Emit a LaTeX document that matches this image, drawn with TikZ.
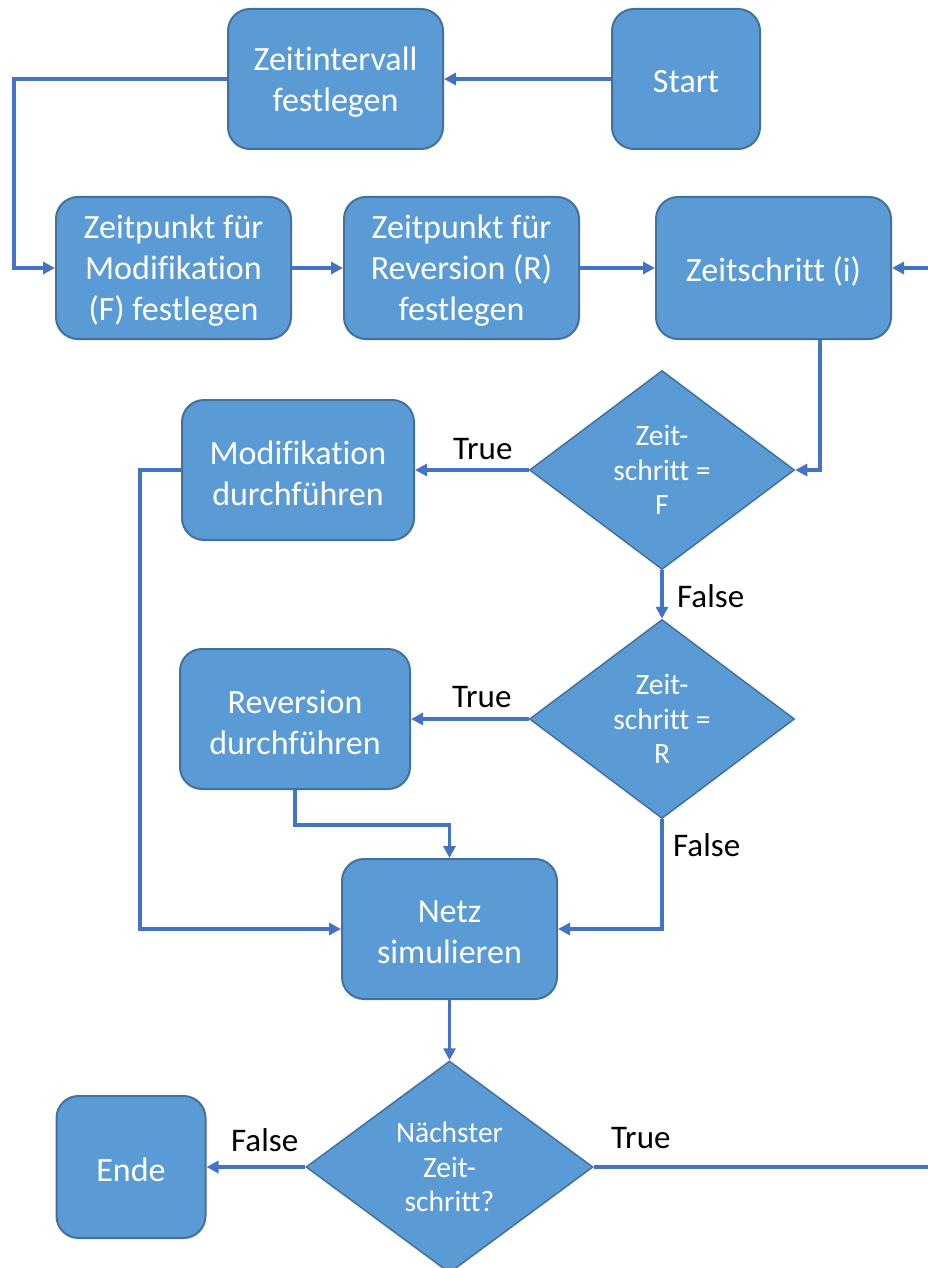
\documentclass[tikz,border=0pt]{standalone}
\usepackage{fontspec}
\setmainfont[Ligatures={NoCommon}]{Carlito}
\usetikzlibrary{arrows.meta,shapes.geometric}
\definecolor{boxfill}{HTML}{5B9BD5}
\definecolor{boxline}{HTML}{41719C}
\definecolor{conncol}{HTML}{4472C4}
\begin{document}
\begin{tikzpicture}[x=1pt,y=-1pt,
  box/.style={draw=boxline, line width=2pt, fill=boxfill, rounded corners=22pt, inner sep=0pt},
  boxtext/.style={text=white, align=center, font=\fontsize{34}{41}\selectfont, inner sep=0pt, yshift=-3pt},
  dec/.style={diamond, draw=boxline, line width=1.5pt, fill=boxfill, text=white, align=center, font=\fontsize{29.5}{34.5}\selectfont, inner sep=0pt},
  conn/.style={draw=conncol, line width=3.5pt, -{Triangle[length=12pt,width=12pt]}},
  plain/.style={draw=conncol, line width=3.5pt},
  lbl/.style={inner sep=0pt, anchor=base west, font=\fontsize{33}{38}\selectfont, text=black}
]
\useasboundingbox (0,0) rectangle (928,1268);
\clip (0,0) rectangle (928,1268);

% nodes
\node[box, minimum width=148pt, minimum height=140pt, label={[boxtext]center:Start}] (start) at (686,79) {};
\node[box, minimum width=215pt, minimum height=140pt, label={[boxtext]center:{Zeitintervall\\festlegen}}] (zint) at (335.5,79) {};
\node[box, minimum width=235pt, minimum height=142pt, label={[boxtext]center:{Zeitpunkt für\\Modifikation\\(F) festlegen}}] (zmod) at (173.5,268) {};
\node[box, minimum width=235pt, minimum height=142pt, label={[boxtext]center:{Zeitpunkt für\\Reversion (R)\\festlegen}}] (zrev) at (461.5,268) {};
\node[box, minimum width=235pt, minimum height=142pt, label={[boxtext]center:{Zeitschritt (i)}}] (zs) at (773.5,268) {};
\node[dec, minimum width=265pt, minimum height=199pt] (d1) at (662,470) {Zeit-\\schritt =\\F};
\node[box, minimum width=232pt, minimum height=140pt, label={[boxtext]center:{Modifikation\\durchführen}}] (mod) at (298,470) {};
\node[dec, minimum width=265pt, minimum height=199pt] (d2) at (662,719) {Zeit-\\schritt =\\R};
\node[box, minimum width=230pt, minimum height=140pt, label={[boxtext]center:{Reversion\\durchführen}}] (rev) at (295,719) {};
\node[box, minimum width=215pt, minimum height=140pt, label={[boxtext]center:{Netz\\simulieren}}] (netz) at (449.5,929) {};
\node[dec, minimum width=287pt, minimum height=212pt] (d3) at (449.5,1167) {Nächster\\Zeit-\\schritt?};
\node[box, minimum width=149pt, minimum height=142pt, label={[boxtext]center:Ende}] (ende) at (131,1167) {};

% helper coordinates
\coordinate (lx) at (14,0);
\coordinate (lx2) at (140,0);
\coordinate (zsx) at (820,0);
\coordinate (rin) at (928,268);
\coordinate (rout) at (928,1167);

% connectors
\draw[conn] (start.west) -- (zint.east);
\draw[conn] (zint.west) -- (zint.west -| lx) |- (zmod.west);
\draw[conn] (zmod.east) -- (zrev.west);
\draw[conn] (zrev.east) -- (zs.west);
\draw[conn] (rin) -- (zs.east);
\draw[conn] (zs.south -| zsx) |- (d1.east);
\draw[conn] (d1.west) -- (mod.east);
\draw[conn] (d1.south) -- (d2.north);
\draw[conn] (d2.west) -- (rev.east);
\draw[conn] (d2.south) |- (netz.east);
\draw[conn] (mod.west) -- (mod.west -| lx2) |- (netz.west);
\draw[conn] (rev.south) -- ++(0,35) -| (netz.north);
\draw[conn] (netz.south) -- (d3.north);
\draw[conn] (d3.west) -- (ende.east);
\draw[plain] (d3.east) -- (rout);

% labels
\node[lbl] (t1) at (453,459) {True};
\node[lbl] (f1) at (677,607) {False};
\node[lbl] (t2) at (452,707) {True};
\node[lbl] (f2) at (673,856) {False};
\node[lbl] (f3) at (231,1151) {False};
\node[lbl] (t3) at (611,1148) {True};
\end{tikzpicture}
\end{document}
